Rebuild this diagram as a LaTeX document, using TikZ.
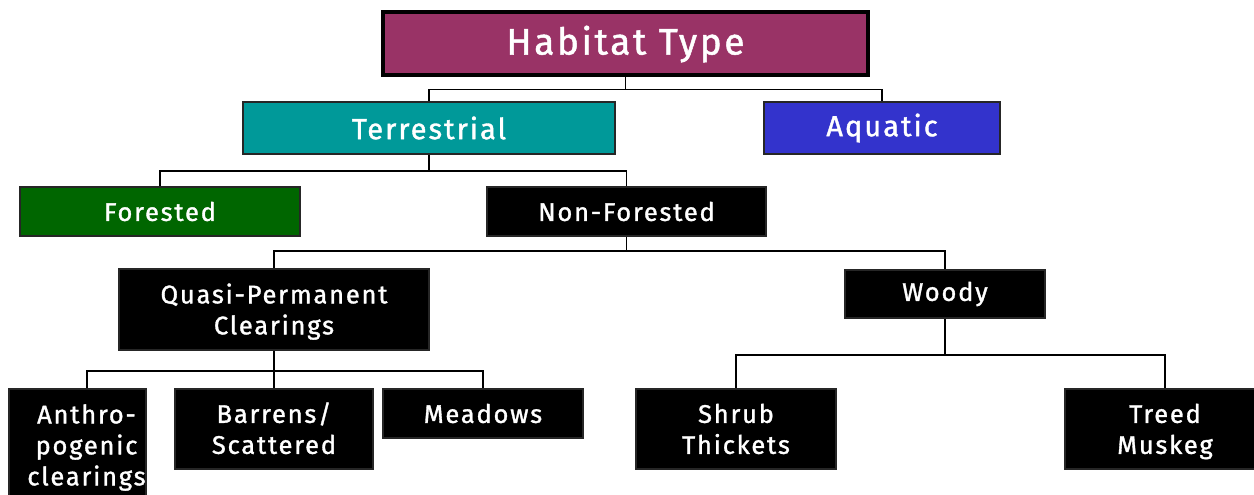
\documentclass[tikz,border=0pt]{standalone}
\usepackage{fontspec}
\setmainfont{Fira Sans}[LetterSpace=7, FakeBold=1.3]
\usetikzlibrary{calc}
\definecolor{plum}{HTML}{993366}
\definecolor{teal2}{HTML}{009999}
\definecolor{royal}{HTML}{3333CC}
\definecolor{forestg}{HTML}{006600}
% lines of a stacked label: the first one is given extra room above
\newcommand{\firstline}[1]{\rule{0pt}{28pt}#1}
\newcommand{\txtline}[1]{\strut#1}
\tikzset{
  box/.style={draw=black!85, line width=2pt, fill=black, text=white, align=center,
    inner sep=0pt, font=\fontsize{25.5}{31}\selectfont},
  link/.style={draw=black, line width=1.4pt},
}
\begin{document}
\begin{tikzpicture}[x=1pt, y=-1pt]
\useasboundingbox (0,0) rectangle (1254,495);
\begin{scope}
\clip (0,0) rectangle (1254,495);
% level 0
\node[box, fill=plum, draw=black, line width=3.5pt, minimum width=485, minimum height=63,
  font=\fontsize{37}{40}\selectfont] (habitat) at (625.5,43.5) {\rule{0pt}{30pt}Habitat Type};
% level 1
\node[box, fill=teal2, minimum width=372, minimum height=52, font=\fontsize{29}{30}\selectfont]
  (terr) at (429,128) {Terrestrial};
\node[box, fill=royal, minimum width=236, minimum height=52, font=\fontsize{29}{30}\selectfont]
  (aqua) at (882,128) {Aquatic};
% level 2
\node[box, fill=forestg, minimum width=280, minimum height=49] (forest) at (160,211.5) {Forested};
\node[box, minimum width=279, minimum height=49] (nonf) at (626.5,211.5) {Non-Forested};
% level 3
\node[box, minimum width=310, minimum height=81] (quasi) at (274,309.5)
  {\firstline{Quasi-Permanent}\\\txtline{Clearings}};
\node[box, minimum width=200, minimum height=48] (woody) at (945,294) {Woody};
% level 4
\node[box, minimum width=135, minimum height=112] (anthro) at (77.5,445)
  {\hspace*{18pt}\firstline{Anthro-}\\\hspace*{18pt}\txtline{pogenic}\\\hspace*{18pt}\txtline{clearings}};
\node[box, minimum width=198, minimum height=80] (barrens) at (274,429)
  {\firstline{Barrens/}\\\txtline{Scattered}};
\node[box, minimum width=200, minimum height=49] (meadows) at (483,413.5) {Meadows};
\node[box, minimum width=200, minimum height=80] (shrub) at (736,429)
  {\firstline{Shrub}\\\txtline{Thickets}};
\node[box, minimum width=200, minimum height=80] (treed) at (1165,429)
  {\firstline{Treed}\\\txtline{Muskeg}};
\end{scope}
% connectors
\draw[link] (habitat.south) -- ++(0,13) coordinate (j0) -| (terr.north);
\draw[link] (j0) -| (aqua.north);
\draw[link] (terr.south) -- ++(0,16) coordinate (j1) -| (forest.north);
\draw[link] (j1) -| (nonf.north);
\draw[link] (nonf.south) -- ++(0,14) coordinate (j2) -| (quasi.north);
\draw[link] (j2) -| (woody.north);
\draw[link] (quasi.south) -- ++(0,20) coordinate (j3) -| ($(anthro.north)+(9.5,0)$);
\draw[link] (j3) -- (barrens.north);
\draw[link] (j3) -| (meadows.north);
\draw[link] (woody.south) -- ++(0,36) coordinate (j4) -| (shrub.north);
\draw[link] (j4) -| (treed.north);
\end{tikzpicture}
\end{document}
